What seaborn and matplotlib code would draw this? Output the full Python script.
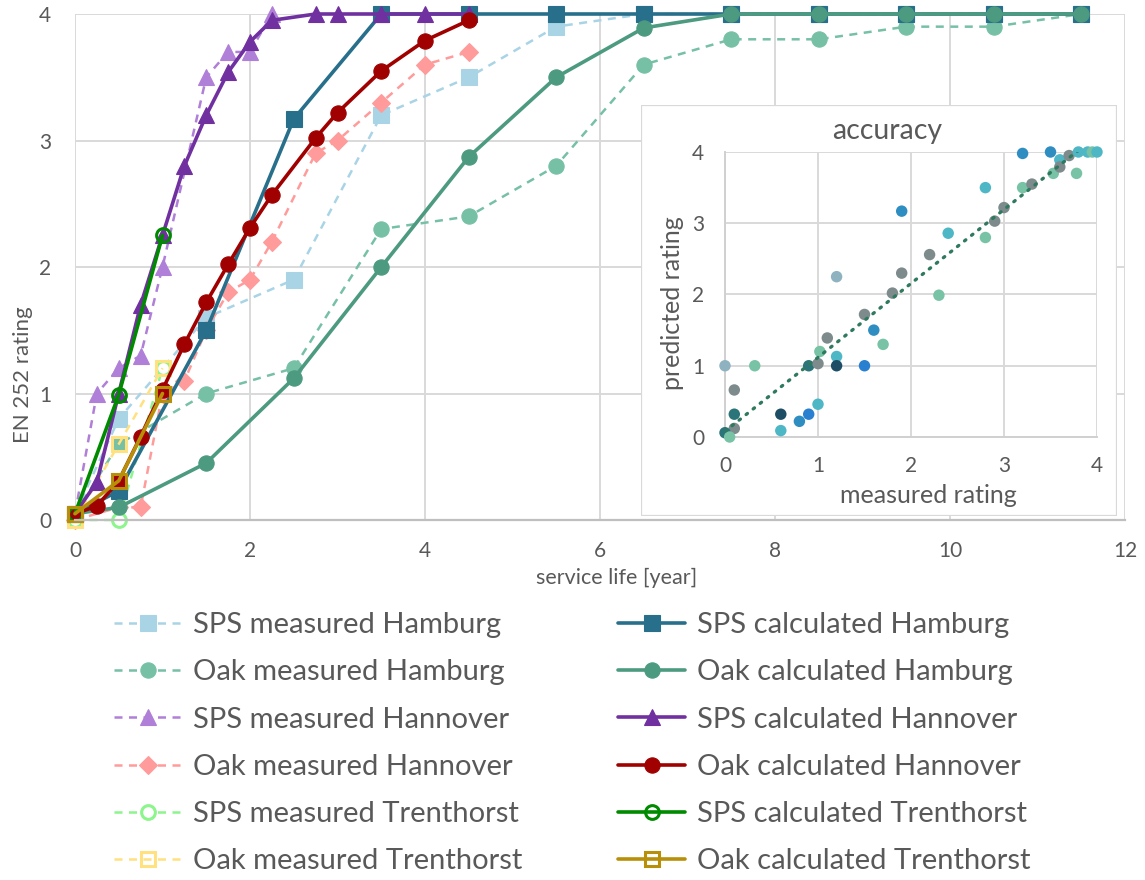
import matplotlib
matplotlib.use("Agg")
import matplotlib.pyplot as plt
from matplotlib.patches import Rectangle
import numpy as np
import pandas as pd
import seaborn as sns

# ---------------- service-life curves (years, EN 252 rating) ----------------
sps_meas_hamburg_x = [0, 0.5, 1.5, 2.5, 3.5, 4.5, 5.5, 6.5, 7.5, 8.5, 9.5, 10.5, 11.5]
sps_meas_hamburg_y = [0.05, 0.8, 1.6, 1.9, 3.2, 3.5, 3.9, 4.0, 4.0, 4.0, 4.0, 4.0, 4.0]

oak_meas_hamburg_x = [0, 0.5, 1.5, 2.5, 3.5, 4.5, 5.5, 6.5, 7.5, 8.5, 9.5, 10.5, 11.5]
oak_meas_hamburg_y = [0.05, 0.6, 1.0, 1.2, 2.3, 2.4, 2.8, 3.6, 3.8, 3.8, 3.9, 3.9, 4.0]

sps_meas_hannover_x = [0, 0.25, 0.5, 0.75, 1.0, 1.5, 1.75, 2.0, 2.25]
sps_meas_hannover_y = [0.05, 1.0, 1.2, 1.3, 2.0, 3.5, 3.7, 3.7, 4.0]

oak_meas_hannover_x = [0, 0.5, 0.75, 1.0, 1.25, 1.5, 1.75, 2.0, 2.25, 2.75, 3.0, 3.5, 4.0, 4.5]
oak_meas_hannover_y = [0.0, 0.1, 0.1, 1.0, 1.1, 1.5, 1.8, 1.9, 2.2, 2.9, 3.0, 3.3, 3.6, 3.7]

sps_meas_trenthorst_x = [0, 0.5, 1.0]
sps_meas_trenthorst_y = [0.0, 0.0, 1.2]

oak_meas_trenthorst_x = [0, 0.5, 1.0]
oak_meas_trenthorst_y = [0.0, 0.6, 1.2]

sps_calc_hamburg_x = [0, 0.5, 1.5, 2.5, 3.5, 4.5, 5.5, 6.5, 7.5, 8.5, 9.5, 10.5, 11.5]
sps_calc_hamburg_y = [0.05, 0.23, 1.5, 3.17, 4.0, 4.0, 4.0, 4.0, 4.0, 4.0, 4.0, 4.0, 4.0]

oak_calc_hamburg_x = [0, 0.5, 1.5, 2.5, 3.5, 4.5, 5.5, 6.5, 7.5, 8.5, 9.5, 10.5, 11.5]
oak_calc_hamburg_y = [0.05, 0.1, 0.45, 1.12, 2.0, 2.87, 3.5, 3.89, 4.0, 4.0, 4.0, 4.0, 4.0]

sps_calc_hannover_x = [0, 0.25, 0.5, 0.75, 1.0, 1.25, 1.5, 1.75, 2.0, 2.25, 2.75, 3.0, 3.5, 4.0, 4.5]
sps_calc_hannover_y = [0.05, 0.3, 1.0, 1.7, 2.25, 2.8, 3.2, 3.54, 3.78, 3.95, 4.0, 4.0, 4.0, 4.0, 4.0]

oak_calc_hannover_x = [0, 0.25, 0.5, 0.75, 1.0, 1.25, 1.5, 1.75, 2.0, 2.25, 2.75, 3.0, 3.5, 4.0, 4.5]
oak_calc_hannover_y = [0.05, 0.11, 0.31, 0.66, 1.03, 1.39, 1.72, 2.02, 2.31, 2.57, 3.02, 3.22, 3.55, 3.79, 3.95]

sps_calc_trenthorst_x = [0, 0.5, 1.0]
sps_calc_trenthorst_y = [0.05, 0.99, 2.25]

oak_calc_trenthorst_x = [0, 0.5, 1.0]
oak_calc_trenthorst_y = [0.05, 0.31, 1.0]

# ---------------- accuracy scatter (measured vs predicted rating) -----------
acc_measured = [0.0, 0.32, 0.1, 0.1, 0.1, 0.0, 0.05, 0.6, 0.6, 0.8, 0.9, 1.0,
                0.9, 1.0, 1.02, 1.2, 1.2, 1.1, 1.2, 1.5, 1.5, 1.6, 1.7, 1.8,
                1.9, 1.9, 2.2, 2.3, 2.4, 2.8, 2.8, 2.9, 3.0, 3.2, 3.2, 3.3,
                3.5, 3.53, 3.6, 3.6, 3.7, 3.78, 3.8, 3.9, 3.95, 4.0]
acc_predicted = [1.0, 1.0, 0.66, 0.32, 0.12, 0.06, 0.0, 0.09, 0.32, 0.22, 0.32, 0.46,
                 1.0, 1.03, 1.2, 1.13, 1.0, 1.39, 2.25, 1.0, 1.72, 1.5, 1.3, 2.02,
                 2.3, 3.17, 2.56, 1.99, 2.86, 3.5, 2.8, 3.03, 3.22, 3.98, 3.5, 3.55,
                 4.0, 3.7, 3.89, 3.79, 3.95, 3.7, 4.0, 4.0, 4.0, 4.0]
acc_group = ["steel", "mint", "gray", "teal", "gray", "teal", "mint", "cyan", "navy", "blue", "bright", "cyan",
             "teal", "gray", "mint", "cyan", "navy", "gray", "steel", "bright", "gray", "blue", "mint", "gray",
             "gray", "blue", "gray", "mint", "cyan", "cyan", "mint", "gray", "gray", "blue", "mint", "gray",
             "blue", "mint", "cyan", "gray", "gray", "mint", "cyan", "cyan", "mint", "cyan"]

acc_palette = {"steel": "#8FB2C0", "mint": "#78C3A6", "gray": "#7E8B8C", "teal": "#2B7479",
               "cyan": "#4DB7C5", "navy": "#1D4E66", "blue": "#2E8DC1", "bright": "#2A80D0"}

TEXT = "#595959"
GRID = "#D9D9D9"

sns.set_theme(style="white")
plt.rcParams["font.family"] = ["Lato", "DejaVu Sans"]
plt.rcParams["text.color"] = TEXT
plt.rcParams["axes.labelcolor"] = TEXT
plt.rcParams["xtick.color"] = TEXT
plt.rcParams["ytick.color"] = TEXT

W, H = 1145, 880
fig = plt.figure(figsize=(W / 100, H / 100), dpi=100)
fig.patch.set_facecolor("white")


def px_rect(x0, y0, x1, y1):
    return [x0 / W, 1 - y1 / H, (x1 - x0) / W, (y1 - y0) / H]


ax = fig.add_axes(px_rect(75, 14, 1125, 520))

meas_lw, calc_lw, ms = 1.8, 2.6, 11
dash = (0, (3.2, 2.6))

series = [
    # measured (dashed)
    (sps_meas_hamburg_x, sps_meas_hamburg_y, "SPS measured Hamburg", "#A9D4E6", "s", dash, meas_lw, None),
    (oak_meas_hamburg_x, oak_meas_hamburg_y, "Oak measured Hamburg", "#76C0A6", "o", dash, meas_lw, None),
    (sps_meas_hannover_x, sps_meas_hannover_y, "SPS measured Hannover", "#B07FD8", "^", dash, meas_lw, None),
    (oak_meas_hannover_x, oak_meas_hannover_y, "Oak measured Hannover", "#FF9B9B", "D", dash, meas_lw, None),
    (sps_meas_trenthorst_x, sps_meas_trenthorst_y, "SPS measured Trenthorst", "#8CF58C", "o", dash, meas_lw, "white"),
    (oak_meas_trenthorst_x, oak_meas_trenthorst_y, "Oak measured Trenthorst", "#FFE17F", "s", dash, meas_lw, "none"),
    # calculated (solid)
    (sps_calc_hamburg_x, sps_calc_hamburg_y, "SPS calculated Hamburg", "#276F8B", "s", "-", calc_lw, None),
    (oak_calc_hamburg_x, oak_calc_hamburg_y, "Oak calculated Hamburg", "#4C9A80", "o", "-", calc_lw, None),
    (sps_calc_hannover_x, sps_calc_hannover_y, "SPS calculated Hannover", "#7030A0", "^", "-", calc_lw, None),
    (oak_calc_hannover_x, oak_calc_hannover_y, "Oak calculated Hannover", "#A00000", "o", "-", calc_lw, None),
    (sps_calc_trenthorst_x, sps_calc_trenthorst_y, "SPS calculated Trenthorst", "#008A00", "o", "-", calc_lw, "none"),
    (oak_calc_trenthorst_x, oak_calc_trenthorst_y, "Oak calculated Trenthorst", "#B88F08", "s", "-", calc_lw, "none"),
]

for xs, ys, name, col, mk, ls, lw, face in series:
    size = ms if mk != "D" else ms * 0.85
    if mk == "^":
        size = ms * 1.05
    kw = dict(color=col, marker=mk, markersize=size, linestyle=ls, linewidth=lw,
              markeredgecolor=col, clip_on=False)
    if face is not None:
        kw.update(markerfacecolor=face, markeredgewidth=2.2, markersize=ms * 0.9)
    else:
        kw.update(markerfacecolor=col, markeredgewidth=0.8)
    sns.lineplot(x=xs, y=ys, ax=ax, label=name, estimator=None, sort=False, **kw)

ax.set_xlim(0, 12)
ax.set_ylim(0, 4)
ax.set_xticks(range(0, 13, 2))
ax.set_yticks(range(0, 5))
ax.grid(True, color=GRID, linewidth=1.4)
ax.set_axisbelow(True)
for side in ["top", "right", "left"]:
    ax.spines[side].set_visible(False)
ax.spines["bottom"].set_color("#BFBFBF")
ax.spines["bottom"].set_linewidth(1.6)
ax.tick_params(axis="both", length=0, labelsize=15)
ax.tick_params(axis="y", pad=17)
ax.tick_params(axis="x", pad=15)
ax.set_xlabel("service life [year]", fontsize=15.5)
ax.set_ylabel("EN 252 rating", fontsize=16)
ax.xaxis.set_label_coords(0.516, -0.095)
ax.yaxis.set_label_coords(-0.040, 0.287)

handles, labels = ax.get_legend_handles_labels()
ax.get_legend().remove()
fig.legend(handles, labels, ncol=2, loc="upper left", bbox_to_anchor=(114 / W, 1 - 612 / H),
           frameon=False, fontsize=21, handlelength=2.3, handletextpad=0.4,
           columnspacing=3.3, labelspacing=0.73, borderpad=0, borderaxespad=0,
           labelcolor=TEXT)

# ---------------- accuracy inset ----------------
bg = fig.add_axes(px_rect(641, 105, 1117, 516))
bg.set_axis_off()
bg.add_patch(Rectangle((0, 0), 1, 1, transform=bg.transAxes, facecolor="white",
                       edgecolor="#D9D9D9", linewidth=1.6))

ins = fig.add_axes(px_rect(725, 152, 1097, 437))
acc = pd.DataFrame({"measured": acc_measured, "predicted": acc_predicted, "group": acc_group})
sns.scatterplot(data=acc, x="measured", y="predicted", hue="group", palette=acc_palette,
                s=68, linewidth=0, ax=ins, legend=False, zorder=3, clip_on=False)
sns.regplot(data=acc, x="measured", y="predicted", scatter=False, ci=None, ax=ins,
            line_kws=dict(color="#2F7A5E", linestyle=(0, (0.5, 2.2)), linewidth=2.4,
                          dash_capstyle="round", zorder=4))
ins.set_xlim(0, 4)
ins.set_ylim(0, 4)
ins.set_xticks(range(0, 5))
ins.set_yticks(range(0, 5))
ins.grid(True, color=GRID, linewidth=1.4)
ins.set_axisbelow(True)
ins.spines["top"].set_visible(False)
ins.spines["right"].set_visible(False)
for side in ["left", "bottom"]:
    ins.spines[side].set_color("#D0D0D0")
    ins.spines[side].set_linewidth(1.4)
ins.tick_params(axis="both", length=0, labelsize=15)
ins.tick_params(axis="y", pad=15)
ins.tick_params(axis="x", pad=14)
ins.set_xlabel("measured rating", fontsize=18)
ins.set_ylabel("predicted rating", fontsize=18)
ins.xaxis.set_label_coords(0.548, -0.165)
ins.yaxis.set_label_coords(-0.11, 0.47)
ins.text(0.435, 1.075, "accuracy", transform=ins.transAxes, ha="center", va="center",
         fontsize=20.5, color=TEXT)

fig.savefig("out.png", dpi=100, facecolor="white")
